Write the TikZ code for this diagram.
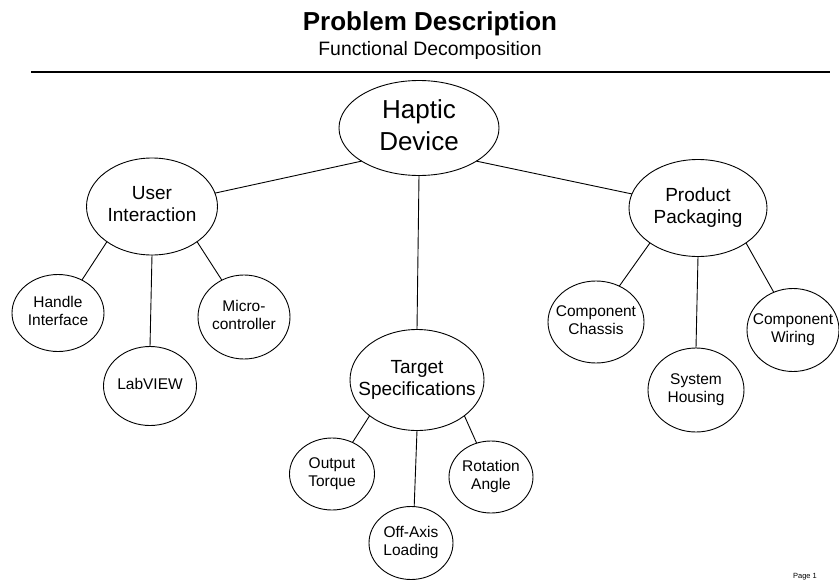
\documentclass[tikz,border=0pt]{standalone}
\usepackage{fontspec}
\setmainfont{Liberation Sans}
\usetikzlibrary{shapes.geometric}
\newcommand\lbl[1]{\makebox[0pt]{\begin{tabular}{@{}c@{}}#1\end{tabular}}}
\begin{document}
\begin{tikzpicture}[x=1pt,y=-1pt,
  ell/.style={ellipse, draw, line width=0.9pt, inner sep=0pt, outer sep=0pt},
  big/.style={font=\fontsize{26}{32}\selectfont},
  mid/.style={font=\fontsize{19}{22}\selectfont},
  small/.style={font=\fontsize{15.5}{18}\selectfont},
  conn/.style={line width=0.9pt}]
\useasboundingbox (0,0) rectangle (839,581);
% title
\node[font=\bfseries\fontsize{26}{30}\selectfont, anchor=base] (title) at (430,30) {Problem Description};
\node[font=\fontsize{19.4}{23}\selectfont, anchor=base] (sub) at (430,55) {Functional Decomposition};
\coordinate (rl) at (31,72);
\coordinate (rr) at (830,72);
\draw[line width=1.2pt] (rl) -- (rr);
% nodes
\node[ell,big,minimum width=160pt,minimum height=95pt] (hd) at (419,128) {\lbl{Haptic\\Device}};
\node[ell,mid,minimum width=131pt,minimum height=97pt] (ui) at (152,206.5) {\lbl{User\\Interaction}};
\node[ell,mid,minimum width=138pt,minimum height=97pt] (pp) at (698,208) {\lbl{Product\\Packaging}};
\node[ell,mid,minimum width=134pt,minimum height=101pt] (ts) at (417,380) {\lbl{Target\\Specifications}};
\node[ell,small,minimum width=92pt,minimum height=77pt] (hi) at (58,313) {\lbl{Handle\\Interface}};
\node[ell,small,minimum width=93pt,minimum height=79pt] (lv) at (150,386) {\lbl{LabVIEW}};
\node[ell,small,minimum width=92pt,minimum height=84pt] (mc) at (244,317) {\lbl{Micro-\\controller}};
\node[ell,small,minimum width=96pt,minimum height=82pt] (cc) at (596,322) {\lbl{Component\\Chassis}};
\node[ell,small,minimum width=96pt,minimum height=84pt] (sh) at (696,390) {\lbl{System\\Housing}};
\node[ell,small,minimum width=92pt,minimum height=83pt] (cw) at (793,330) {\lbl{Component\\Wiring}};
\node[ell,small,minimum width=85pt,minimum height=72pt] (ot) at (332,474) {\lbl{Output\\Torque}};
\node[ell,small,minimum width=84pt,minimum height=73pt] (oa) at (411,543) {\lbl{Off-Axis\\Loading}};
\node[ell,small,minimum width=84pt,minimum height=72pt] (ra) at (491,477) {\lbl{Rotation\\Angle}};
% connectors
\draw[conn] (hd.210) -- (ui.12);
\draw[conn] (hd.330) -- (pp.168);
\draw[conn] (hd.south) -- (ts.north);
\draw[conn] (ui.218) -- (hi.54);
\draw[conn] (ui.south) -- (lv.north);
\draw[conn] (ui.322) -- (mc.121);
\draw[conn] (pp.216) -- (cc.57);
\draw[conn] (pp.south) -- (sh.north);
\draw[conn] (pp.324) -- (cw.117);
\draw[conn] (ts.217) -- (ot.57);
\draw[conn] (ts.270) -- (oa.85);
\draw[conn] (ts.323) -- (ra.113);
% page number
\node[font=\fontsize{7.5}{9}\selectfont, anchor=base] (pg) at (805,578) {Page 1};
\end{tikzpicture}
\end{document}
